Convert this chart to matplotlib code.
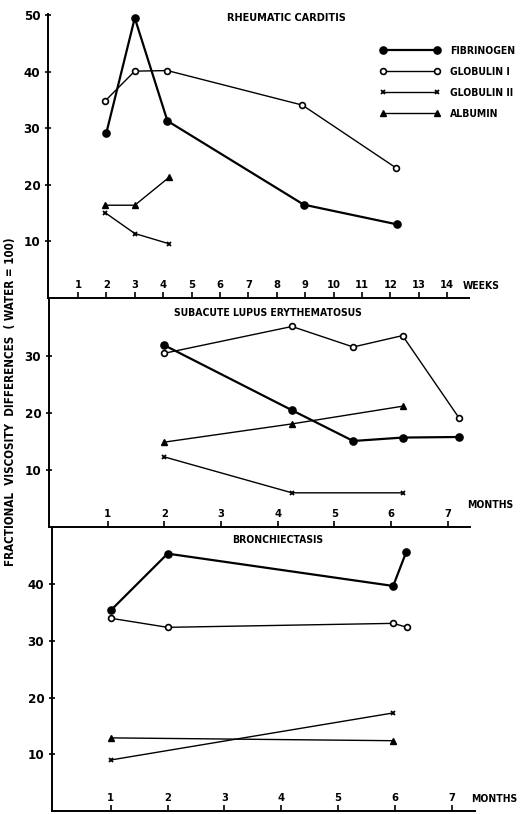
import matplotlib
matplotlib.use("Agg")
import matplotlib.pyplot as plt
from matplotlib.lines import Line2D

FONT = ['DejaVu Sans']
plt.rcParams['font.family'] = FONT
plt.rcParams['font.weight'] = 'bold'
plt.rcParams['font.stretch'] = 'condensed'

series = ["FIBRINOGEN", "GLOBULIN I", "GLOBULIN II", "ALBUMIN"]

# Panel 1: Rheumatic carditis (weeks)
rc_fib_x = [2, 3, 4.15, 8.95, 12.25]
rc_fib_y = [29.2, 49.5, 31.3, 16.5, 13.0]
rc_g1_x = [1.95, 3, 4.15, 8.9, 12.2]
rc_g1_y = [34.8, 40.1, 40.2, 34.1, 23.0]
rc_g2_x = [1.95, 3, 4.2]
rc_g2_y = [15.1, 11.4, 9.6]
rc_alb_x = [1.95, 3, 4.2]
rc_alb_y = [16.4, 16.4, 21.3]
weeks = list(range(1, 15))

# Panel 2: Subacute lupus erythematosus (months)
sl_fib_x = [2, 4.25, 5.33, 6.2, 7.2]
sl_fib_y = [31.9, 20.5, 15.1, 15.7, 15.8]
sl_g1_x = [2, 4.25, 5.33, 6.2, 7.2]
sl_g1_y = [30.5, 35.2, 31.6, 33.6, 19.1]
sl_g2_x = [2, 4.25, 6.2]
sl_g2_y = [12.3, 6.0, 6.0]
sl_alb_x = [2, 4.25, 6.2]
sl_alb_y = [14.9, 18.1, 21.2]

# Panel 3: Bronchiectasis (months)
br_fib_x = [1, 2, 5.97, 6.2]
br_fib_y = [35.4, 45.4, 39.7, 45.7]
br_g1_x = [1, 2, 5.97, 6.22]
br_g1_y = [34.0, 32.4, 33.1, 32.4]
br_g2_x = [1, 5.97]
br_g2_y = [9.0, 17.3]
br_alb_x = [1, 5.97]
br_alb_y = [12.9, 12.4]
months = list(range(1, 8))

W, H = 520, 814
fig = plt.figure(figsize=(W / 100, H / 100), dpi=100)
fig.patch.set_facecolor('white')


def px_axes(left, right, top, bottom):
    return fig.add_axes([left / W, 1 - bottom / H, (right - left) / W, (bottom - top) / H])


styles = {
    "FIBRINOGEN": dict(color='black', lw=1.6, marker='o', ms=5.2, mfc='black', mec='black'),
    "GLOBULIN I": dict(color='black', lw=1.0, marker='o', ms=4.2, mfc='white', mec='black', mew=1.2),
    "GLOBULIN II": dict(color='black', lw=1.0, marker='x', ms=3.5, mec='black', mew=1.3),
    "ALBUMIN": dict(color='black', lw=1.0, marker='^', ms=3.8, mfc='black', mec='black'),
}


def style_axes(ax, xt, yt, xlim, ylim):
    ax.set_xlim(*xlim)
    ax.set_ylim(*ylim)
    for s in ['top', 'right']:
        ax.spines[s].set_visible(False)
    for s in ['left', 'bottom']:
        ax.spines[s].set_linewidth(1.4)
    ax.set_xticks(xt)
    ax.set_xticklabels([str(v) for v in xt])
    ax.set_yticks(yt)
    ax.set_yticklabels([str(v) for v in yt])
    ax.tick_params(axis='x', direction='in', length=4, width=1.2, pad=-13, labelsize=8)
    ax.tick_params(axis='y', direction='inout', length=5, width=1.2, pad=3, labelsize=9.5)
    ax.patch.set_alpha(0)


ax1 = px_axes(48, 469, 14, 298)
ax2 = px_axes(49, 470, 298, 527)
ax3 = px_axes(52, 475, 527, 811)

ax1.plot(rc_fib_x, rc_fib_y, **styles["FIBRINOGEN"])
ax1.plot(rc_g1_x, rc_g1_y, **styles["GLOBULIN I"])
ax1.plot(rc_g2_x, rc_g2_y, **styles["GLOBULIN II"])
ax1.plot(rc_alb_x, rc_alb_y, **styles["ALBUMIN"])
style_axes(ax1, weeks, [10, 20, 30, 40, 50], (-0.056, 14.77), (0, 50.2))

ax2.plot(sl_fib_x, sl_fib_y, **styles["FIBRINOGEN"])
ax2.plot(sl_g1_x, sl_g1_y, **styles["GLOBULIN I"])
ax2.plot(sl_g2_x, sl_g2_y, **styles["GLOBULIN II"])
ax2.plot(sl_alb_x, sl_alb_y, **styles["ALBUMIN"])
style_axes(ax2, months, [10, 20, 30], (-0.035, 7.39), (0, 40.2))

ax3.plot(br_fib_x, br_fib_y, **styles["FIBRINOGEN"])
ax3.plot(br_g1_x, br_g1_y, **styles["GLOBULIN I"])
ax3.plot(br_g2_x, br_g2_y, **styles["GLOBULIN II"])
ax3.plot(br_alb_x, br_alb_y, **styles["ALBUMIN"])
style_axes(ax3, months, [10, 20, 30, 40], (-0.035, 7.41), (0, 50.1))


def ftext(x, y, s, **kw):
    fig.text(x / W, 1 - y / H, s, **kw)


ftext(286, 18, "RHEUMATIC CARDITIS", ha='center', va='center', fontsize=7.8)
ftext(268, 313, "SUBACUTE LUPUS ERYTHEMATOSUS", ha='center', va='center', fontsize=7.5)
ftext(278, 540, "BRONCHIECTASIS", ha='center', va='center', fontsize=7.5)
ftext(463, 286, "WEEKS", ha='left', va='center', fontsize=7.5)
ftext(467, 505, "MONTHS", ha='left', va='center', fontsize=7.5)
ftext(517, 799, "MONTHS", ha='right', va='center', fontsize=7.5)
ftext(11, 402, "FRACTIONAL  VISCOSITY  DIFFERENCES  ( WATER = 100)",
      ha='center', va='center', rotation=90, fontsize=8.3)

handles = [Line2D([], [], **styles[s]) for s in series]
leg = ax1.legend(handles, series, loc='upper left', frameon=False, numpoints=2,
                 bbox_to_anchor=((380 - 48) / (469 - 48), 1 - (46 - 14) / (298 - 14)),
                 borderaxespad=0, borderpad=0, handlelength=5.8, handletextpad=0.9,
                 labelspacing=1.05, prop=dict(size=7.5, weight='bold'))

fig.savefig("out.png", dpi=100, facecolor='white')
